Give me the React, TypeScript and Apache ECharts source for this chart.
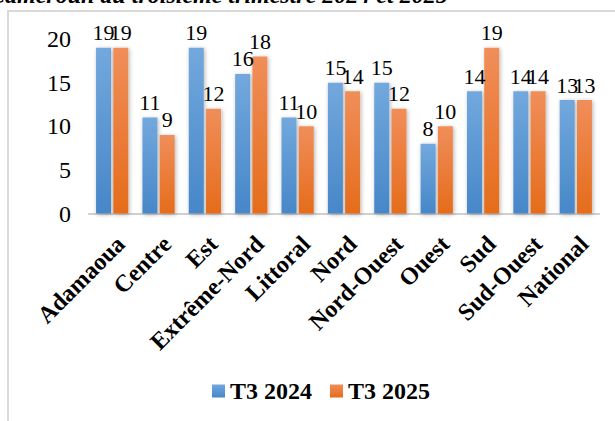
import React, { useEffect, useRef } from "react";
import * as echarts from "echarts";

const categories = [
  "Adamaoua",
  "Centre",
  "Est",
  "Extrême-Nord",
  "Littoral",
  "Nord",
  "Nord-Ouest",
  "Ouest",
  "Sud",
  "Sud-Ouest",
  "National",
];
const t3_2024 = [19, 11, 19, 16, 11, 15, 15, 8, 14, 14, 13];
const t3_2025 = [19, 9, 12, 18, 10, 14, 12, 10, 19, 14, 13];
const seriesNames = ["T3 2024", "T3 2025"];
const titleText = "Cameroun au troisième trimestre 2024 et 2025";

const FONT = '"Liberation Serif", "Times New Roman", serif';

export default function App() {
  const ref = useRef<HTMLDivElement>(null);
  useEffect(() => {
    document.body.style.margin = "0";
    if (!ref.current) return;
    const chart = echarts.init(ref.current, undefined, { renderer: "svg" });
    const grad = (top: string, bottom: string) =>
      new echarts.graphic.LinearGradient(0, 0, 0, 1, [
        { offset: 0, color: top },
        { offset: 1, color: bottom },
      ]);
    const label = {
      show: true,
      position: "top" as const,
      distance: 4,
      color: "#000",
      fontFamily: FONT,
      fontSize: 22,
    };
    chart.setOption({
      animation: false,
      backgroundColor: "#fff",
      textStyle: { fontFamily: FONT },
      graphic: [
        {
          type: "rect",
          shape: { x: 8, y: 11, width: 800, height: 600 },
          style: { fill: "none", stroke: "#d9d9d9", lineWidth: 2 },
          silent: true,
        },
        {
          type: "text",
          x: -11,
          y: 7,
          style: {
            text: titleText,
            font: 'italic bold 24px "Liberation Serif", serif',
            fill: "#000",
            verticalAlign: "bottom",
            align: "left",
          },
        },
      ],
      grid: { left: 89, right: 16, top: 39, bottom: 207.5 },
      legend: {
        left: 207,
        top: 374,
        itemWidth: 13,
        itemHeight: 13,
        itemGap: 18,
        icon: "rect",
        textStyle: {
          fontFamily: FONT,
          fontSize: 24,
          fontWeight: "bold",
          color: "#000",
        },
        data: seriesNames,
      },
      xAxis: {
        type: "category",
        data: categories,
        axisLine: { show: true, lineStyle: { color: "#d0d0d0", width: 2 } },
        axisTick: { show: false },
        axisLabel: {
          rotate: 45,
          interval: 0,
          margin: 18,
          verticalAlign: "top",
          color: "#000",
          fontFamily: FONT,
          fontSize: 24,
          fontWeight: "bold",
        },
      },
      yAxis: {
        type: "value",
        min: 0,
        max: 20,
        interval: 5,
        axisLine: { show: false },
        axisTick: { show: false },
        splitLine: { show: false },
        axisLabel: {
          margin: 18,
          color: "#000",
          fontFamily: FONT,
          fontSize: 24,
        },
      },
      series: [
        {
          name: seriesNames[0],
          type: "bar",
          data: t3_2024,
          barWidth: 15,
          barGap: "15%",
          itemStyle: {
            color: grad("#72a8dd", "#4787c8"),
            shadowBlur: 4,
            shadowColor: "rgba(0,0,0,0.3)",
            shadowOffsetX: 1,
            shadowOffsetY: 1,
          },
          label,
        },
        {
          name: seriesNames[1],
          type: "bar",
          data: t3_2025,
          barWidth: 15,
          itemStyle: {
            color: grad("#f08e5a", "#e56c1b"),
            shadowBlur: 4,
            shadowColor: "rgba(0,0,0,0.3)",
            shadowOffsetX: 1,
            shadowOffsetY: 1,
          },
          label,
        },
      ],
    });
    return () => chart.dispose();
  }, []);
  return <div ref={ref} style={{ width: 615, height: 421 }} />;
}
